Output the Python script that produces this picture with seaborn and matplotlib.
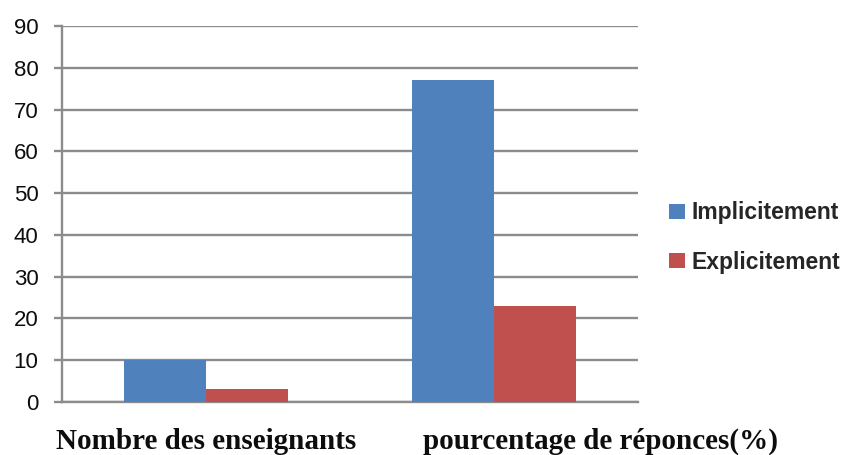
import matplotlib
matplotlib.use("Agg")
import matplotlib.pyplot as plt
import seaborn as sns
import pandas as pd

categories = ["Nombre des enseignants", "pourcentage de réponces(%)"]
series = ["Implicitement", "Explicitement"]
implicitement = [10, 77]
explicitement = [3, 23]
colors = ["#4F81BD", "#C0504D"]
yticks = [0, 10, 20, 30, 40, 50, 60, 70, 80, 90]

df = pd.DataFrame({
    "cat": categories * 2,
    "serie": [series[0]] * 2 + [series[1]] * 2,
    "val": implicitement + explicitement,
})

sns.set_theme(style="white")
plt.rcParams["font.family"] = ["Liberation Sans", "DejaVu Sans"]

fig = plt.figure(figsize=(8.48, 4.55), dpi=100)
ax = fig.add_axes([62 / 848, 1 - 402 / 455, (638 - 62) / 848, (402 - 26) / 455])

sns.barplot(data=df, x="cat", y="val", hue="serie", order=categories,
            hue_order=series, palette=colors, width=0.57, ax=ax,
            edgecolor="none", linewidth=0, saturation=1, zorder=3)

ax.set_ylim(0, 90)
ax.set_xlim(-0.5, 1.5)
ax.set_yticks(yticks)
ax.yaxis.grid(True, color="#8c8c8c", linewidth=1.7, zorder=0)
ax.set_axisbelow(True)
for s in ["top", "right"]:
    ax.spines[s].set_visible(False)
for s in ["left", "bottom"]:
    ax.spines[s].set_color("#8c8c8c")
    ax.spines[s].set_linewidth(1.7)
ax.tick_params(axis="y", which="major", direction="out", length=6, width=1.7,
               color="#8c8c8c", pad=11, labelsize=16, labelcolor="#0d0d0d", left=True)
ax.tick_params(axis="x", length=0)
ax.set_xticks([0, 1])
ax.set_xticklabels(["", ""])
ax.set_xlabel("")
ax.set_ylabel("")

label_x = [0.0, 1.37]
for xv, txt in zip(label_x, categories):
    ax.text(xv, -0.125, txt, transform=ax.get_xaxis_transform(), ha="center",
            va="baseline", fontsize=21, fontweight="bold",
            family=["Liberation Serif", "DejaVu Serif"], color="#0d0d0d")

handles, labels = ax.get_legend_handles_labels()
ax.legend(handles, labels, loc="center left", bbox_to_anchor=(658 / 848, 1 - 237.5 / 455),
          bbox_transform=fig.transFigure, frameon=False, borderpad=0,
          handlelength=0.66, handleheight=0.66, handletextpad=0.3,
          labelspacing=1.15, prop={"weight": "bold", "size": 16.5})

fig.savefig("out.png", dpi=100)
